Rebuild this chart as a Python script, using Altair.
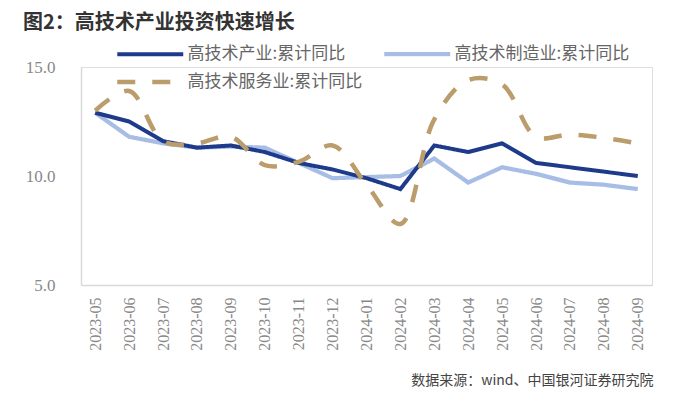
import altair as alt
import pandas as pd

months = ["2023-05", "2023-06", "2023-07", "2023-08", "2023-09", "2023-10", "2023-11",
          "2023-12", "2024-01", "2024-02", "2024-03", "2024-04", "2024-05", "2024-06",
          "2024-07", "2024-08", "2024-09"]
hi_tech = [12.9, 12.5, 11.6, 11.3, 11.4, 11.1, 10.6, 10.3, 9.9, 9.4, 11.4, 11.1, 11.5, 10.6, 10.4, 10.2, 10.0]
manuf = [12.9, 11.8, 11.5, 11.3, 11.35, 11.3, 10.6, 9.9, 9.95, 10.0, 10.8, 9.7, 10.4, 10.1, 9.7, 9.6, 9.4]
service = [13.0, 13.9, 11.6, 11.5, 11.8, 10.5, 10.65, 11.4, 9.6, 7.8, 12.6, 14.4, 14.2, 11.8, 11.9, 11.75, 11.5]

names = ["高技术产业:累计同比", "高技术制造业:累计同比", "高技术服务业:累计同比"]
colors = ["#1e3a8a", "#a8bde6", "#bb9c6b"]
dashes = [[1, 0], [1, 0], [18, 17]]
widths = [4, 4.5, 4.5]

rows = []
for name, vals in zip(names, [hi_tech, manuf, service]):
    for m, v in zip(months, vals):
        rows.append({"month": m, "series": name, "value": v})
df = pd.DataFrame(rows)

x_enc = alt.X("month:O", sort=months,
              scale=alt.Scale(type="point", padding=0.42),
              axis=alt.Axis(title="数据来源：wind、中国银河证券研究院", labelAngle=270,
                            labelFont="Liberation Serif", labelFontSize=16, labelColor="#888888",
                            ticks=False, domainColor="#d9d9d9", domainWidth=1.5, labelPadding=12,
                            titleFont="Noto Sans CJK SC", titleFontSize=14, titleFontWeight="normal",
                            titleColor="#444444", titleAnchor="end", titleAlign="right",
                            titleX=572, titleY=95, titleBaseline="middle"))
y_enc = alt.Y("value:Q", scale=alt.Scale(domain=[5, 15], nice=False, zero=False),
              axis=alt.Axis(title=None, values=[5, 10, 15], format=".1f", grid=False,
                            labelFont="Liberation Serif", labelFontSize=17, labelColor="#888888",
                            ticks=False, domainColor="#d9d9d9", domainWidth=1.5, labelPadding=26))

color_enc = alt.Color("series:N", scale=alt.Scale(domain=names, range=colors),
                      legend=alt.Legend(title=None, orient="none", legendX=83.5, legendY=-23.5,
                                        columns=2, direction="horizontal",
                                        symbolType="M-7,0H1", symbolSize=272,
                                        labelFont="Noto Sans CJK SC", labelFontSize=17,
                                        labelColor="#666666", columnPadding=13, rowPadding=9,
                                        labelOffset=2, labelLimit=300))
dash_enc = alt.StrokeDash("series:N", scale=alt.Scale(domain=names, range=dashes))
width_enc = alt.StrokeWidth("series:N", scale=alt.Scale(domain=names, range=widths))

base = alt.Chart(df).encode(x=x_enc, y=y_enc, color=color_enc, strokeDash=dash_enc,
                            strokeWidth=width_enc)

l_manuf = base.mark_line().transform_filter(alt.datum.series == names[1])
l_hi = base.mark_line().transform_filter(alt.datum.series == names[0])
l_serv = base.mark_line(interpolate="catmull-rom").transform_filter(alt.datum.series == names[2])

chart = alt.layer(l_manuf, l_hi, l_serv).properties(
    width=571, height=218,
    autosize=alt.AutoSizeParams(type="none"),
    padding={"left": 73, "top": 59, "right": 19, "bottom": 109},
    title=alt.TitleParams("图2：高技术产业投资快速增长", anchor="start", frame="group",
                          font="Noto Sans CJK SC", fontSize=20, fontWeight="bold",
                          color="#333333", dx=-58, offset=11),
).configure_view(stroke=None).configure(background="white")

chart.save("out.html", embed_options={"renderer": "svg", "actions": False})
